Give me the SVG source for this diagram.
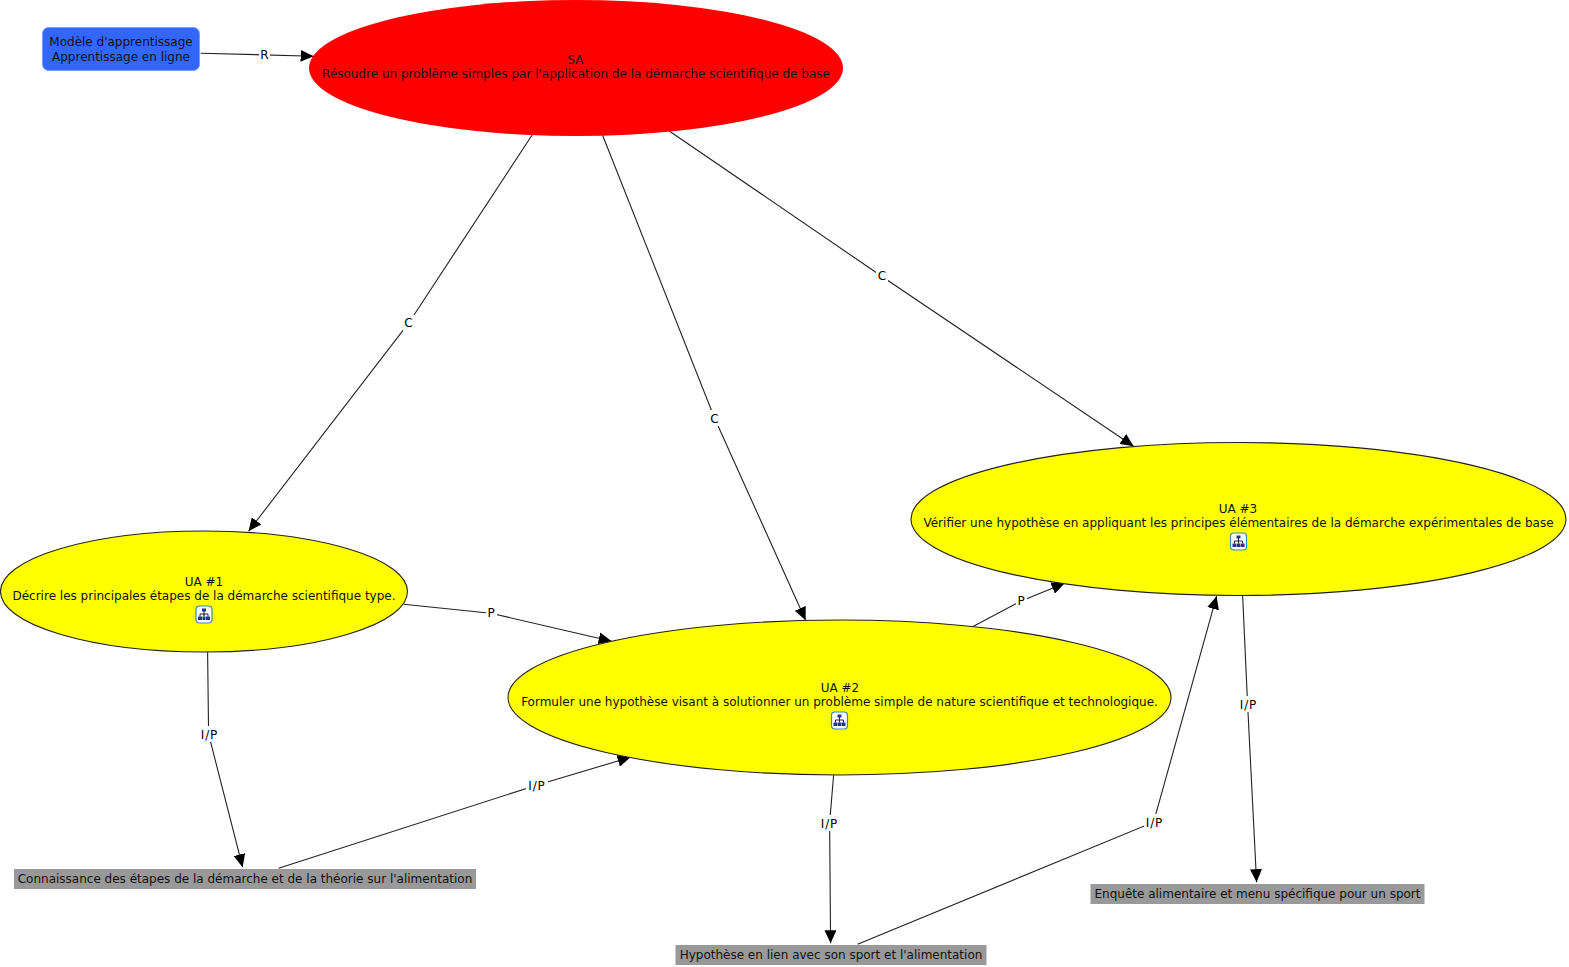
<svg xmlns="http://www.w3.org/2000/svg" width="1569" height="967" viewBox="0 0 1569 967">
<style>
text{font-family:"DejaVu Sans",Verdana,sans-serif;font-size:12px;fill:#000;text-anchor:middle}
.n text{fill:#111}
.s{letter-spacing:.9px}
.y{fill:#ff0;stroke:#222;stroke-width:1.1}
.g{fill:#999}
.c{fill:none;stroke:#222;stroke-width:1.1}
.l{fill:#fff}
</style>
<defs>
<marker id="a" markerUnits="userSpaceOnUse" markerWidth="14" markerHeight="12" refX="13" refY="6" orient="auto"><path d="M0 0L13 6L0 12z" fill="#000"/></marker>
<g id="ic"><rect x="-8" y="-8.500" width="16" height="17" rx="3.500" fill="#fff" stroke="#3a86b5" stroke-width="1.200"/><path d="M0 -3.500V1M-4 2V-.5H4V2M0 -.5V2" fill="none" stroke="#223" stroke-width="1"/><path d="M-2 -6h4v3h-4zM-6 2h4v3.500h-4zM-1.500 2h3v3.500h-3zM2 2h4v3.500h-4z" fill="#22348c"/></g>
</defs>
<g id="connectors" transform="translate(1.600 1.200)">
<path class="c" marker-end="url(#a)" d="M199 52L312 55"/>
<path class="c" marker-end="url(#a)" d="M531 133L407 322L247 530"/>
<path class="c" marker-end="url(#a)" d="M601 134L713 417L804 619"/>
<path class="c" marker-end="url(#a)" d="M668 130L880 275L1132 445"/>
<path class="c" marker-end="url(#a)" d="M402 603L489 612L610 640"/>
<path class="c" marker-end="url(#a)" d="M970 626L1019 600L1063 582"/>
<path class="c" marker-end="url(#a)" d="M206 651L207 733L241 866"/>
<path class="c" marker-end="url(#a)" d="M277 867L535 784L629 756"/>
<path class="c" marker-end="url(#a)" d="M832 774L828 822L829 942"/>
<path class="c" marker-end="url(#a)" d="M856 943L1152 821L1215 595"/>
<path class="c" marker-end="url(#a)" d="M1241 594L1246 703L1255 881"/>
</g>
<g id="edge-labels">
<rect class="l" x="259" y="46" width="11" height="16"/><text x="264.500" y="59">R</text>
<rect class="l" x="403" y="315" width="12" height="16"/><text x="408.500" y="327">C</text>
<rect class="l" x="709" y="410" width="12" height="16"/><text x="714.500" y="423">C</text>
<rect class="l" x="876" y="268" width="12" height="16"/><text x="882" y="280">C</text>
<rect class="l" x="486" y="605" width="11" height="16"/><text x="491" y="617">P</text>
<rect class="l" x="1016" y="593" width="11" height="16"/><text x="1021" y="605">P</text>
<rect class="l" x="199" y="726" width="21" height="16"/><text class="s" x="209.500" y="739">I/P</text>
<rect class="l" x="526" y="777" width="22" height="16"/><text class="s" x="537" y="790">I/P</text>
<rect class="l" x="819" y="815" width="21" height="16"/><text class="s" x="829.500" y="828">I/P</text>
<rect class="l" x="1144" y="814" width="21" height="16"/><text class="s" x="1154.500" y="827">I/P</text>
<rect class="l" x="1238" y="696" width="21" height="16"/><text class="s" x="1248.500" y="709">I/P</text>
</g>
<g id="modele" class="n"><rect x="42.500" y="27.500" width="157" height="43" rx="6" fill="#3366ff" stroke="#7a9cff" stroke-width="1"/><text x="121" y="46">Modèle d'apprentissage</text><text x="121" y="60.500">Apprentissage en ligne</text></g>
<g id="sa" class="n"><ellipse cx="576" cy="68" rx="267" ry="68" fill="#f00"/><text x="575.500" y="64">SA</text><text x="576" y="78.300">Résoudre un problème simples par l'application de la démarche scientifique de base</text></g>
<g id="ua1" class="n"><ellipse class="y" cx="204" cy="591.500" rx="203.500" ry="60.500"/><text x="204" y="586">UA #1</text><text x="204" y="600">Décrire les principales étapes de la démarche scientifique type.</text><use href="#ic" x="204" y="614.500"/></g>
<g id="ua2" class="n"><ellipse class="y" cx="839.500" cy="697.500" rx="331.500" ry="77.500"/><text x="840" y="692">UA #2</text><text x="839.500" y="706">Formuler une hypothèse visant à solutionner un problème simple de nature scientifique et technologique.</text><use href="#ic" x="839.500" y="720.500"/></g>
<g id="ua3" class="n"><ellipse class="y" cx="1238.500" cy="519" rx="327.500" ry="76.500"/><text x="1238" y="513">UA #3</text><text x="1238.500" y="527">Vérifier une hypothèse en appliquant les principes élémentaires de la démarche expérimentales de base</text><use href="#ic" x="1238.500" y="541.500"/></g>
<g id="connaissance" class="n"><rect class="g" x="14" y="869" width="462" height="20"/><text x="245" y="883">Connaissance des étapes de la démarche et de la théorie sur l'alimentation</text></g>
<g id="hypothese" class="n"><rect class="g" x="675.500" y="945" width="311" height="20"/><text x="831" y="959">Hypothèse en lien avec son sport et l'alimentation</text></g>
<g id="enquete" class="n"><rect class="g" x="1090.500" y="884" width="334" height="20"/><text x="1257.500" y="898">Enquête alimentaire et menu spécifique pour un sport</text></g>
</svg>
